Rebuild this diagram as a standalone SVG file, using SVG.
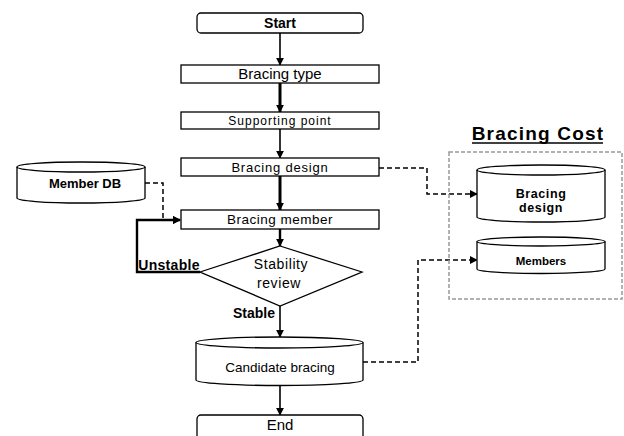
<svg xmlns="http://www.w3.org/2000/svg" width="624" height="436" viewBox="0 0 624 436">
  <defs>
    <marker id="arrow" viewBox="0 0 10 10" refX="9" refY="5" markerWidth="8" markerHeight="8" orient="auto" markerUnits="userSpaceOnUse">
      <path d="M0,0 L10,5 L0,10 Z" fill="#000"/>
    </marker>
    <marker id="arrowThin" viewBox="0 0 10 10" refX="9" refY="5" markerWidth="8" markerHeight="8" orient="auto" markerUnits="userSpaceOnUse">
      <path d="M0,0 L10,5 L0,10 Z" fill="#000"/>
    </marker>
    <style>
      .box { fill: #fff; stroke: #000; stroke-width: 1.3; }
      .t { font-family: "Liberation Sans", Arial, sans-serif; fill: #000; text-anchor: middle; }
      .b { font-weight: bold; }
      .flow { fill: none; stroke: #000; stroke-width: 1.6; marker-end: url(#arrow); }
      .heavy { stroke-width: 3; }
      .mid { stroke-width: 2.4; }
      .dash { fill: none; stroke: #000; stroke-width: 1.5; stroke-dasharray: 5 3; marker-end: url(#arrowThin); }
    </style>
  </defs>

  <rect width="624" height="436" fill="#fff"/>

  <!-- connectors -->
  <g id="connectors">
    <line class="flow" x1="280" y1="33" x2="280" y2="65"/>
    <line class="flow heavy" x1="280" y1="83" x2="280" y2="112"/>
    <line class="flow" x1="280" y1="129" x2="280" y2="158"/>
    <line class="flow heavy" x1="280" y1="176" x2="280" y2="210"/>
    <line class="flow mid" x1="280" y1="229" x2="280" y2="246"/>
    <line class="flow" x1="280" y1="306" x2="280" y2="337"/>
    <line class="flow" x1="280" y1="385" x2="280" y2="415"/>
    <!-- unstable loop back to member selection -->
    <polyline class="flow mid" points="200,272 137,272 137,220 180,220"/>
    <!-- database links -->
    <polyline class="dash" points="145,183 163,183 163,220 180,220"/>
    <polyline class="dash" points="379,168 427,168 427,194 477,194"/>
    <polyline class="dash" points="363,362 418,362 418,260 477,260"/>
  </g>

  <g id="start">
    <rect class="box" x="197" y="13" width="166" height="20" rx="4"/>
    <text class="t b" x="280" y="28" font-size="14">Start</text>
  </g>

  <g id="bracing-type">
    <rect class="box" x="181" y="65" width="198" height="18"/>
    <text class="t" x="280" y="79" font-size="15">Bracing type</text>
  </g>

  <g id="supporting-point">
    <rect class="box" x="181" y="112" width="198" height="17"/>
    <text class="t" x="280" y="125" font-size="12" letter-spacing="1">Supporting point</text>
  </g>

  <g id="bracing-design">
    <rect class="box" x="181" y="158" width="198" height="18"/>
    <text class="t" x="280" y="172" font-size="13" letter-spacing="0.8">Bracing design</text>
  </g>

  <g id="member-db">
    <path class="box" d="M17,167 A64,5 0 0 1 145,167 V198 A64,5 0 0 1 17,198 Z"/>
    <path d="M17,167 A64,5 0 0 0 145,167" fill="none" stroke="#000" stroke-width="1.3"/>
    <text class="t b" x="85" y="188" font-size="13">Member DB</text>
  </g>

  <g id="bracing-member">
    <rect class="box" x="181" y="210" width="198" height="19"/>
    <text class="t" x="280" y="224" font-size="13.5" letter-spacing="0.5">Bracing member</text>
  </g>

  <g id="stability-review">
    <polygon class="box" points="280,246 362,272 280,306 200,272"/>
    <text class="t" x="281" y="269" font-size="14" letter-spacing="0.6">Stability</text>
    <text class="t" x="279" y="288" font-size="14" letter-spacing="0.6">review</text>
  </g>

  <g id="labels">
    <text class="t b" x="169" y="270" font-size="14" letter-spacing="0.3">Unstable</text>
    <text class="t b" x="254" y="318" font-size="14">Stable</text>
  </g>

  <g id="candidate-bracing">
    <path class="box" d="M196,342.5 A83.5,5.5 0 0 1 363,342.5 V380 A83.5,5.5 0 0 1 196,380 Z"/>
    <path d="M196,342.5 A83.5,5.5 0 0 0 363,342.5" fill="none" stroke="#000" stroke-width="1.3"/>
    <text class="t" x="280" y="372" font-size="13.5">Candidate bracing</text>
  </g>

  <g id="end">
    <rect class="box" x="197" y="415" width="166" height="26" rx="4"/>
    <text class="t" x="280" y="430" font-size="15">End</text>
  </g>

  <g id="bracing-cost">
    <text class="t b" x="538" y="140" font-size="19" letter-spacing="1.2">Bracing Cost</text>
    <line x1="472" y1="143" x2="603" y2="143" stroke="#000" stroke-width="1.3"/>
    <rect x="449" y="152" width="173" height="147" fill="none" stroke="#999" stroke-width="1.5" stroke-dasharray="4 2"/>
  </g>

  <g id="cost-bracing-design">
    <path class="box" d="M477,170 A64,5 0 0 1 605,170 V217 A64,5 0 0 1 477,217 Z"/>
    <path d="M477,170 A64,5 0 0 0 605,170" fill="none" stroke="#000" stroke-width="1.3"/>
    <text class="t b" x="541" y="198" font-size="12.5" letter-spacing="0.6">Bracing</text>
    <text class="t b" x="541" y="212" font-size="12.5" letter-spacing="0.6">design</text>
  </g>

  <g id="cost-members">
    <path class="box" d="M477,241.5 A64,4.5 0 0 1 605,241.5 V269 A64,4.5 0 0 1 477,269 Z"/>
    <path d="M477,241.5 A64,4.5 0 0 0 605,241.5" fill="none" stroke="#000" stroke-width="1.3"/>
    <text class="t b" x="541" y="265" font-size="11.5">Members</text>
  </g>
</svg>
